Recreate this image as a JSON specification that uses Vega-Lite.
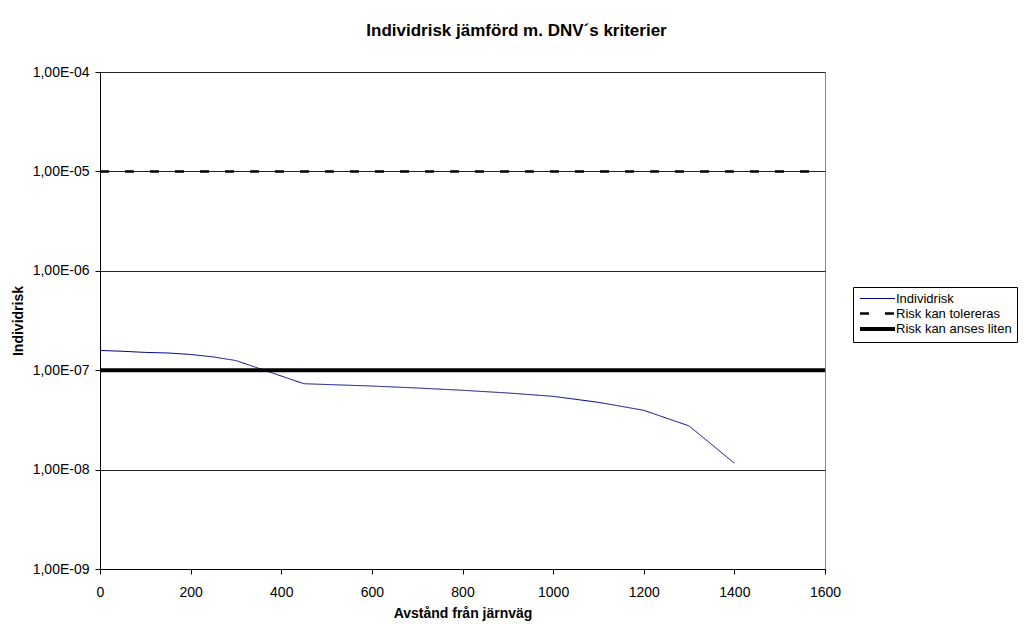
{
  "$schema": "https://vega.github.io/schema/vega-lite/v6.json",
  "width": 725,
  "height": 497,
  "autosize": {"type": "none"},
  "padding": {"left": 100, "top": 72, "right": 207, "bottom": 55},
  "background": "white",
  "title": {
    "text": "Individrisk jämförd m. DNV´s kriterier",
    "font": "Liberation Sans",
    "fontSize": 17,
    "fontWeight": "bold",
    "color": "#000",
    "anchor": "middle",
    "dx": 54,
    "offset": 25
  },
  "config": {
    "font": "Liberation Sans",
    "view": {"stroke": "#888", "strokeWidth": 1},
    "axis": {
      "labelFont": "Liberation Sans",
      "labelFontSize": 14,
      "labelColor": "#000",
      "titleFont": "Liberation Sans",
      "titleFontSize": 14,
      "titleFontWeight": "bold",
      "titleColor": "#000",
      "domainColor": "#000",
      "tickColor": "#000",
      "tickSize": 5
    }
  },
  "data": {
    "values": [
      {"x": 0, "risk": 1.58e-7, "serie": "Individrisk"},
      {"x": 50, "risk": 1.55e-7, "serie": "Individrisk"},
      {"x": 100, "risk": 1.51e-7, "serie": "Individrisk"},
      {"x": 150, "risk": 1.49e-7, "serie": "Individrisk"},
      {"x": 200, "risk": 1.44e-7, "serie": "Individrisk"},
      {"x": 250, "risk": 1.36e-7, "serie": "Individrisk"},
      {"x": 300, "risk": 1.25e-7, "serie": "Individrisk"},
      {"x": 450, "risk": 7.31e-8, "serie": "Individrisk"},
      {"x": 500, "risk": 7.18e-8, "serie": "Individrisk"},
      {"x": 600, "risk": 6.93e-8, "serie": "Individrisk"},
      {"x": 700, "risk": 6.62e-8, "serie": "Individrisk"},
      {"x": 800, "risk": 6.28e-8, "serie": "Individrisk"},
      {"x": 900, "risk": 5.9e-8, "serie": "Individrisk"},
      {"x": 1000, "risk": 5.46e-8, "serie": "Individrisk"},
      {"x": 1100, "risk": 4.75e-8, "serie": "Individrisk"},
      {"x": 1200, "risk": 3.95e-8, "serie": "Individrisk"},
      {"x": 1300, "risk": 2.75e-8, "serie": "Individrisk"},
      {"x": 1400, "risk": 1.16e-8, "serie": "Individrisk"},
      {"x": 0, "risk": 1e-5, "serie": "Risk kan tolereras"},
      {"x": 1600, "risk": 1e-5, "serie": "Risk kan tolereras"},
      {"x": 0, "risk": 1e-7, "serie": "Risk kan anses liten"},
      {"x": 1600, "risk": 1e-7, "serie": "Risk kan anses liten"}
    ]
  },
  "mark": {"type": "line", "clip": true},
  "encoding": {
    "x": {
      "field": "x",
      "type": "quantitative",
      "title": "Avstånd från järnväg",
      "scale": {"domain": [0, 1600], "nice": false},
      "axis": {"values": [0, 200, 400, 600, 800, 1000, 1200, 1400, 1600], "format": "d", "grid": false, "labelFlush": false, "labelPadding": 11, "titlePadding": 7}
    },
    "y": {
      "field": "risk",
      "type": "quantitative",
      "title": "Individrisk",
      "scale": {"type": "log", "domain": [1e-9, 1e-4], "nice": false},
      "axis": {
        "values": [1e-9, 1e-8, 1e-7, 1e-6, 1e-5, 1e-4],
        "labelExpr": "'1,00E-0' + toString(round(-log(datum.value)/LN10))",
        "grid": true,
        "gridColor": "#222",
        "gridWidth": 1,
        "gridOpacity": 1,
        "labelFlush": false,
        "labelPadding": 6,
        "tickSize": 5,
        "titlePadding": 7
      }
    },
    "order": {"field": "x", "type": "quantitative"},
    "color": {
      "field": "serie",
      "type": "nominal",
      "scale": {"domain": ["Individrisk", "Risk kan tolereras", "Risk kan anses liten"], "range": ["#000080", "#000000", "#000000"]},
      "legend": {
        "title": null,
        "orient": "none",
        "legendX": 753,
        "legendY": 215,
        "strokeColor": "#000",
        "padding": 5,
        "labelFont": "Liberation Sans",
        "labelFontSize": 13,
        "labelColor": "#000",
        "labelOffset": 10.5,
        "symbolOffset": 11.5,
        "symbolType": "M-2.917,0H2.917",
        "symbolSize": 144,
        "rowPadding": 0,
        "labelLimit": 300
      }
    },
    "strokeDash": {
      "field": "serie",
      "type": "nominal",
      "scale": {"domain": ["Individrisk", "Risk kan tolereras", "Risk kan anses liten"], "range": [[1, 0], [9, 16], [1, 0]]}
    },
    "strokeWidth": {
      "field": "serie",
      "type": "nominal",
      "scale": {"domain": ["Individrisk", "Risk kan tolereras", "Risk kan anses liten"], "range": [1, 4, 4]}
    }
  }
}
